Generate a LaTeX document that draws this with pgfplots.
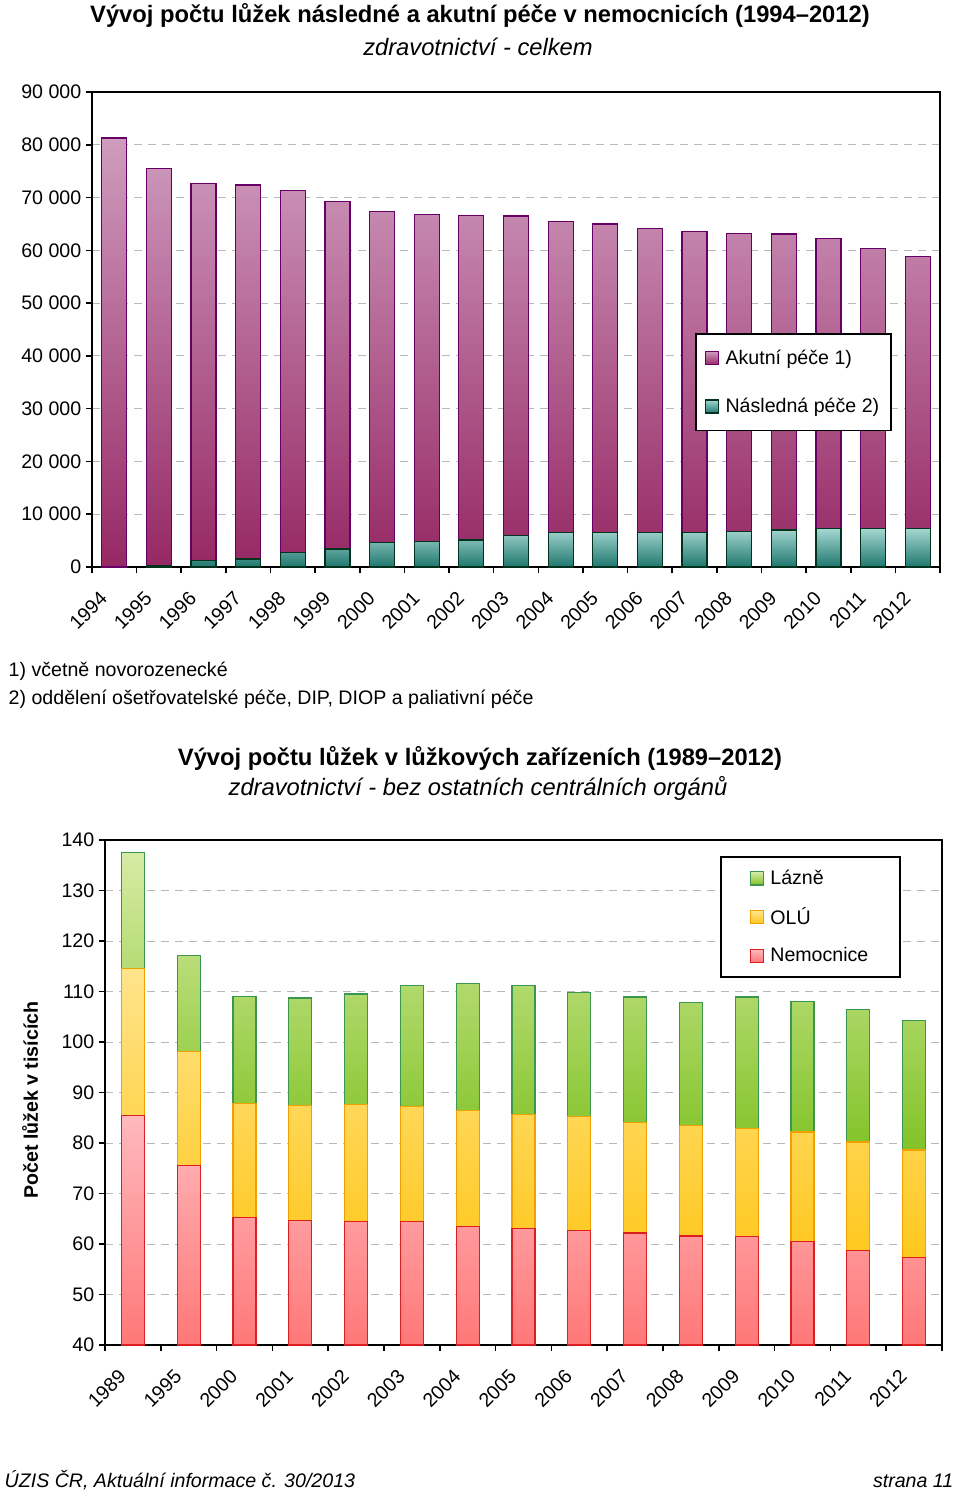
\documentclass[border=0pt]{standalone}
\usepackage{pgfplots}
\pgfplotsset{compat=1.18}
\usepackage{fontspec}
\setmainfont{Liberation Sans}
\newcommand\fs{\fontsize{14.7pt}{17pt}\selectfont}
\newcommand\ft{\fontsize{17.8pt}{21pt}\selectfont}
\definecolor{akB}{RGB}{102,0,102}
\definecolor{akT}{RGB}{207,156,191}
\definecolor{akD}{RGB}{150,40,100}
\definecolor{naB}{RGB}{0,50,30}
\definecolor{naT}{RGB}{165,215,210}
\definecolor{naD}{RGB}{30,120,110}
\definecolor{neB}{RGB}{220,30,30}
\definecolor{neT}{RGB}{255,185,190}
\definecolor{neD}{RGB}{255,120,120}
\definecolor{olB}{RGB}{240,160,0}
\definecolor{olT}{RGB}{255,228,140}
\definecolor{olD}{RGB}{255,200,30}
\definecolor{laB}{RGB}{60,150,80}
\definecolor{laT}{RGB}{215,235,165}
\definecolor{laD}{RGB}{130,195,40}
\pgfplotstableread{
x nasl akut
0 0 81300
1 300 75200
2 1200 71400
3 1500 70900
4 2700 68700
5 3400 65900
6 4700 62700
7 4800 62000
8 5100 61500
9 5900 60600
10 6500 59000
11 6600 58400
12 6600 57500
13 6500 57100
14 6700 56500
15 7000 56100
16 7300 54900
17 7300 53000
18 7300 51500
}\topdata
\pgfplotstableread{
x nem olu laz
0 85.5 29.1 22.9
1 75.5 22.7 19.0
2 65.3 22.6 21.1
3 64.6 22.8 21.3
4 64.4 23.3 21.8
5 64.4 22.9 23.9
6 63.4 23.1 25.1
7 63.0 22.7 25.5
8 62.6 22.6 24.6
9 62.2 21.9 24.8
10 61.6 21.8 24.5
11 61.5 21.3 26.1
12 60.5 21.7 25.9
13 58.7 21.5 26.3
14 57.4 21.2 25.7
}\botdata
\pgfplotsset{
  common/.style={
    scale only axis,
    ybar stacked,
    tick pos=left,
    tick align=outside,
    major tick length=4.5pt,
    tick style={line width=1.2pt, black},
    axis line style={line width=1.5pt},
    ymajorgrids,
    grid style={line width=0.6pt, gray!55, dash pattern=on 6pt off 4.5pt},
    scaled y ticks=false,
    x tick label as interval,
    xticklabel style={font=\fs, rotate=45, anchor=east, xshift=-14pt, yshift=-6.2pt},
    yticklabel style={font=\fs},
    legend cell align=left,
    reverse legend,
    legend image code/.code={\draw[##1, line width=0.9pt] (0pt,-4.9pt) rectangle (9.75pt,4.9pt);},
  }
}
\begin{document}
\begin{tikzpicture}
\useasboundingbox (0,0) rectangle (720pt,-1119.75pt);
% titles
\node[anchor=base, font=\ft\bfseries] at (360pt,-16.5pt) {Vývoj počtu lůžek následné a akutní péče v nemocnicích (1994–2012)};
\node[anchor=base, font=\ft\itshape] at (358.5pt,-41.25pt) {zdravotnictví - celkem};
\begin{axis}[common,
  at={(69pt,-425.25pt)}, anchor=south west,
  width=636pt, height=356.25pt,
  bar width=18.75pt,
  xmin=-0.5, xmax=18.5, ymin=0, ymax=90000,
  xtick={-0.5,0.5,...,18.5},
  xticklabels={1994,1995,1996,1997,1998,1999,2000,2001,2002,2003,2004,2005,2006,2007,2008,2009,2010,2011,2012},
  ytick={0,10000,...,90000},
  yticklabels={0,10 000,20 000,30 000,40 000,50 000,60 000,70 000,80 000,90 000},
  legend style={at={(0.711,0.4926)}, anchor=north west, draw=black, line width=1.2pt,
    font=\fs, inner xsep=6.75pt, inner ysep=10pt, row sep=20pt, column sep=3pt},
]
\addplot[draw=naB, line width=0.9pt, top color=naT, bottom color=naD] table[x=x, y=nasl] {\topdata};
\addplot[draw=akB, line width=0.9pt, top color=akT, bottom color=akD] table[x=x, y=akut] {\topdata};
\legend{Následná péče 2),Akutní péče 1)}
\end{axis}
% footnotes
\node[anchor=base west, font=\fs] at (3pt,-507pt) {1) včetně novorozenecké};
\node[anchor=base west, font=\fs] at (3pt,-528pt) {2) oddělení ošetřovatelské péče, DIP, DIOP a paliativní péče};
\node[anchor=base, font=\ft\bfseries] at (360pt,-573.75pt) {Vývoj počtu lůžek v lůžkových zařízeních (1989–2012)};
\node[anchor=base, font=\ft\itshape] at (358.5pt,-596.25pt) {zdravotnictví - bez ostatních centrálních orgánů};
\begin{axis}[common,
  at={(78.75pt,-1008.75pt)}, anchor=south west,
  width=627.75pt, height=378.75pt,
  bar width=17.25pt,
  xmin=-0.5, xmax=14.5, ymin=40, ymax=140,
  xtick={-0.5,0.5,...,14.5},
  xticklabels={1989,1995,2000,2001,2002,2003,2004,2005,2006,2007,2008,2009,2010,2011,2012},
  ytick={40,50,...,140},
  yticklabels={40,50,60,70,80,90,100,110,120,130,140},
  ylabel={Počet lůžek v tisících},
  ylabel style={font=\fs\bfseries, at={(axis description cs:-0.0896,0.485)}, anchor=center},
  legend style={at={(0.7348,0.9683)}, anchor=north west, draw=black, line width=1.2pt,
    font=\fs, inner xsep=21.5pt, inner ysep=8pt, row sep=11.75pt, column sep=3pt},
]
\addplot[draw=neB, line width=0.9pt, top color=neT, bottom color=neD] table[x=x, y=nem] {\botdata};
\addplot[draw=olB, line width=0.9pt, top color=olT, bottom color=olD] table[x=x, y=olu] {\botdata};
\addplot[draw=laB, line width=0.9pt, top color=laT, bottom color=laD] table[x=x, y=laz] {\botdata};
\legend{Nemocnice,OLÚ,Lázně}
\end{axis}
\node[anchor=base west, font=\fs\itshape] at (0pt,-1115.25pt) {ÚZIS ČR, Aktuální informace č. 30/2013};
\node[anchor=base east, font=\fs\itshape] at (718.5pt,-1115.25pt) {strana 11};
\end{tikzpicture}
\end{document}
